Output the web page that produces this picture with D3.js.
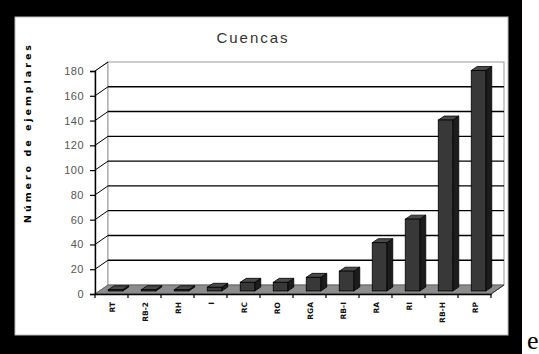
<!DOCTYPE html>
<html><head><meta charset="utf-8">
<script src="https://cdn.jsdelivr.net/npm/d3@7"></script>
<style>html,body{margin:0;padding:0;background:#fff;overflow:hidden}</style>
</head><body>
<script>
const categories = ["RT","RB-2","RH","I","RC","RO","RGA","RB-I","RA","RI","RB-H","RP"];
const values = [1,1,1,3,7,7,11,16,39,58,138,178];
const yTicks = [0,20,40,60,80,100,120,140,160,180];
const chartTitle = "Cuencas";
const yTitle = "Número de ejemplares";

const W = 539, H = 354;
const svg = d3.select("body").append("svg").attr("width", W).attr("height", H);

// frame
svg.append("rect").attr("x",0).attr("y",0).attr("width",522).attr("height",H).attr("fill","#000");
svg.append("rect").attr("x",15).attr("y",17).attr("width",493).attr("height",318).attr("fill","#fff").attr("stroke","#bbb").attr("stroke-width",1);
svg.append("text").attr("x",527).attr("y",349).attr("font-family","Liberation Serif, Times New Roman, serif")
  .attr("font-size",26).attr("fill","#000").text("e");

const x0 = 95, x1 = 491, yBase = 294;
const dx = 13, dy = -9;
const x = d3.scaleBand().domain(categories).range([x0, x1]).paddingInner(0.56).paddingOuter(0.28);
const xs = d3.scaleBand().domain(categories).range([x0, x1]);
const y = d3.scaleLinear().domain([0,180]).range([yBase, 71]);

// left wall
svg.append("path").attr("d", `M${x0},${y(0)}L${x0},${y(180)}L${x0+dx},${y(180)+dy}L${x0+dx},${y(0)+dy}Z`)
  .attr("fill","#fff").attr("stroke","#999");
// back wall
svg.append("rect").attr("x",x0+dx).attr("y",y(180)+dy).attr("width",x1-x0).attr("height",y(0)-y(180))
  .attr("fill","#fff").attr("stroke","#999");
// gridlines
const grid = yTicks.filter(v=>v>0 && v<180);
svg.selectAll(".grid").data(grid).enter().append("line")
  .attr("x1",x0+dx).attr("x2",x1+dx).attr("y1",d=>y(d)+dy).attr("y2",d=>y(d)+dy)
  .attr("stroke","#000").attr("stroke-width",1.4);
svg.selectAll(".diag").data(yTicks.filter(v=>v>0)).enter().append("line")
  .attr("x1",x0).attr("x2",x0+dx).attr("y1",d=>y(d)).attr("y2",d=>y(d)+dy)
  .attr("stroke","#000").attr("stroke-width",1);
// floor
svg.append("path").attr("d", `M${x0},${y(0)}L${x1},${y(0)}L${x1+dx},${y(0)+dy}L${x0+dx},${y(0)+dy}Z`)
  .attr("fill","#8c8c8c").attr("stroke","#666");

// bars
const fx = 4, fy = -3, bdx = 6, bdy = -4;
const bw = x.bandwidth();
const g = svg.selectAll(".bar").data(categories.map((c,i)=>({c, v: values[i]}))).enter().append("g");
g.append("path").attr("d", d => {
  const l = x(d.c)+fx, r = l+bw, t = y(d.v)+fy, b = y(0)+fy;
  return `M${r},${b}L${r},${t}L${r+bdx},${t+bdy}L${r+bdx},${b+bdy}Z`;
}).attr("fill","#1c1c1c").attr("stroke","#000").attr("stroke-width",0.8);
g.append("path").attr("d", d => {
  const l = x(d.c)+fx, r = l+bw, t = y(d.v)+fy;
  return `M${l},${t}L${r},${t}L${r+bdx},${t+bdy}L${l+bdx},${t+bdy}Z`;
}).attr("fill","#4a4a4a").attr("stroke","#000").attr("stroke-width",0.8);
g.append("rect").attr("x", d=>x(d.c)+fx).attr("y", d=>y(d.v)+fy).attr("width", bw)
  .attr("height", d=>y(0)-y(d.v)).attr("fill","#383838").attr("stroke","#000").attr("stroke-width",0.8);

// axes
const yAxis = d3.axisLeft(y).tickValues(yTicks).tickSize(5).tickPadding(6);
const ya = svg.append("g").attr("transform",`translate(${x0},0)`).call(yAxis);
ya.select(".domain").attr("stroke","#000").attr("stroke-width",1.4);
ya.selectAll(".tick line").attr("stroke","#000").attr("stroke-width",1.2);
ya.selectAll(".tick text").attr("font-family","Liberation Sans, Arial, sans-serif").attr("font-size",11)
  .attr("fill","#555").attr("letter-spacing","0.5px");

const xAxis = d3.axisBottom(xs).tickSize(0).tickFormat("");
const xa = svg.append("g").attr("transform",`translate(0,${yBase})`).call(xAxis);
xa.select(".domain").attr("stroke","#000").attr("stroke-width",1.4);
xa.selectAll(".xt").data(d3.range(categories.length+1)).enter().append("line")
  .attr("x1",i=>x0+i*xs.step()).attr("x2",i=>x0+i*xs.step()).attr("y1",0).attr("y2",4)
  .attr("stroke","#000").attr("stroke-width",1.2);
svg.append("line").attr("x1",x1).attr("y1",yBase).attr("x2",x1+dx).attr("y2",yBase+dy).attr("stroke","#333");

svg.selectAll(".xl").data(categories).enter().append("text")
  .attr("transform", d=>`translate(${xs(d)+xs.bandwidth()/2+3},${yBase+8}) rotate(-90)`)
  .attr("text-anchor","end").attr("font-family","DejaVu Sans, sans-serif").attr("font-weight","bold")
  .attr("font-size",7.5).attr("fill","#111").text(d=>d);

// titles
svg.append("text").attr("x",253).attr("y",43).attr("text-anchor","middle")
  .attr("font-family","Liberation Sans, Arial, sans-serif").attr("font-size",15).attr("fill","#333")
  .attr("letter-spacing","2px").text(chartTitle);
svg.append("text").attr("transform","translate(31,134) rotate(-90)").attr("text-anchor","middle")
  .attr("font-family","DejaVu Sans, sans-serif").attr("font-weight","900").attr("font-size",9.5)
  .attr("textLength",178).attr("lengthAdjust","spacing")
  .attr("fill","#000").text(yTitle);
</script>
</body></html>
